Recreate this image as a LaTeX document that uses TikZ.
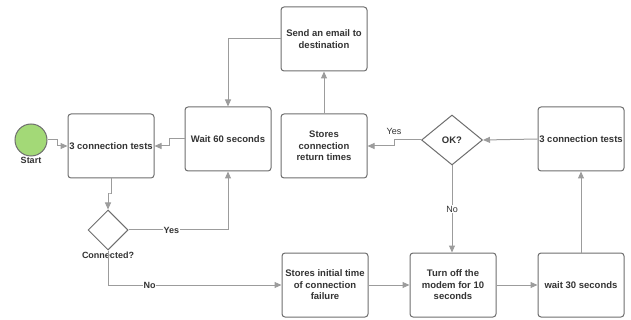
\documentclass[tikz,border=0pt]{standalone}
\usepackage{fontspec}
\setmainfont{Liberation Sans}
\usetikzlibrary{arrows.meta,shapes.geometric,calc}
\definecolor{linegray}{HTML}{9C9C9C}
\definecolor{boxgray}{HTML}{6E6E6E}
\definecolor{txt}{HTML}{333333}
\definecolor{startgreen}{HTML}{A3D977}
\begin{document}
\begin{tikzpicture}[x=1pt,y=-1pt,
  box/.style={draw=boxgray,line width=1pt,rounded corners=3pt,minimum width=86pt,minimum height=64pt,inner sep=0pt,align=center,font=\bfseries\fontsize{9.5}{11.5}\selectfont,text=txt,fill=white},
  dec/.style={draw=boxgray,line width=1pt,diamond,inner sep=0pt,font=\bfseries\fontsize{9.5}{11.5}\selectfont,text=txt,fill=white},
  conn/.style={draw=linegray,line width=1pt,-{Triangle[length=7pt,width=6pt]}},
  lblb/.style={font=\bfseries\fontsize{9}{10}\selectfont,text=txt,fill=white,inner sep=0.5pt},
  lblr/.style={font=\fontsize{9}{10}\selectfont,text=txt,fill=white,inner sep=0.5pt}]
\useasboundingbox (0,0) rectangle (631,320);
\node[circle,draw=boxgray,line width=1pt,fill=startgreen,minimum size=32pt,inner sep=0pt,
  label={[font=\bfseries\fontsize{9}{10}\selectfont,text=txt,inner sep=1pt]below:Start}] (start) at (31,140) {};
\node[box] (t1) at (111,146) {3 connection tests};
\node[box] (w60) at (228,139) {Wait 60 seconds};
\node[box] (se) at (324,39) {Send an email to\\destination};
\node[box] (sr) at (324,146) {Stores\\connection\\return times};
\node[dec,minimum width=61pt,minimum height=50pt] (ok) at (452,140) {OK?};
\node[box] (t2) at (581,139) {3 connection tests};
\node[dec,minimum width=40pt,minimum height=40pt,
  label={[font=\bfseries\fontsize{9}{10}\selectfont,text=txt,inner sep=1pt]below:Connected?}] (c) at (108,230) {};
\node[box] (si) at (325,285) {Stores initial time\\of connection\\failure};
\node[box] (tm) at (453,285) {Turn off the\\modem for 10\\seconds};
\node[box] (w30) at (581,285) {wait 30 seconds};

\draw[conn] (start.east) -| ($(start.east)!0.5!(t1.west)$) |- (t1.west);
\draw[conn] (w60.west) -| ($(w60.west)!0.5!(t1.east)$) |- (t1.east);
\draw[conn] (t1.south) |- ($(t1.south)!0.5!(c.north)$) -| (c.north);
\draw[conn] (c.east) -| node[lblb,pos=0.215] {Yes} (w60.south);
\draw[conn] (c.south) |- node[lblb,pos=0.62] {No} (si.west);
\draw[conn] (si.east) -- (tm.west);
\draw[conn] (tm.east) -- (w30.west);
\draw[conn] (w30.north) -- (t2.south);
\draw[conn] (t2.west) -- (ok.east);
\draw[conn] (ok.south) -- node[lblr] {No} (ok.south |- tm.north);
\draw[conn] (ok.west) -| ($(ok.west)!0.5!(sr.east)$) |- (sr.east);
\node[lblr] (yesr) at (394,131) {Yes};
\draw[conn] (sr.north) -- (se.south);
\draw[conn] (se.west) -| (w60.north);
\end{tikzpicture}
\end{document}
